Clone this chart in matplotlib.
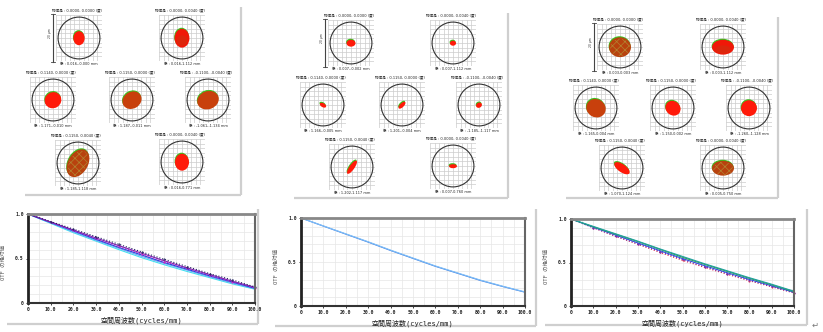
import matplotlib
matplotlib.use("Agg")
import matplotlib.pyplot as plt
from matplotlib.patches import Ellipse, Circle, Rectangle
import numpy as np

W, H = 823, 332
plt.rcParams["hatch.linewidth"] = 0.5

# ---------------- data ----------------
freq = [0, 10, 20, 30, 40, 50, 60, 70, 80, 90, 100]
xtick_labels = ["0", "10.0", "20.0", "30.0", "40.0", "50.0", "60.0", "70.0", "80.0", "90.0", "100.0"]
ytick_vals = [0, 0.5, 1.0]
ytick_labels = ["0", "0.5", "1.0"]

mtf1_navy = [1.0, 0.915, 0.83, 0.745, 0.66, 0.575, 0.49, 0.41, 0.33, 0.26, 0.18]
mtf1_purple = [1.0, 0.91, 0.82, 0.73, 0.645, 0.56, 0.475, 0.395, 0.32, 0.245, 0.175]
mtf1_magenta = [1.0, 0.905, 0.815, 0.725, 0.635, 0.55, 0.465, 0.39, 0.31, 0.24, 0.17]
mtf1_blue = [1.0, 0.905, 0.81, 0.715, 0.625, 0.54, 0.455, 0.38, 0.305, 0.235, 0.165]
mtf1_lightblue = [1.0, 0.9, 0.8, 0.705, 0.615, 0.525, 0.445, 0.37, 0.295, 0.225, 0.16]
mtf1_cyan = [1.0, 0.895, 0.79, 0.695, 0.6, 0.51, 0.43, 0.355, 0.285, 0.215, 0.155]

mtf2_a = [1.0, 0.91, 0.82, 0.73, 0.635, 0.545, 0.455, 0.375, 0.295, 0.225, 0.16]
mtf2_b = [1.0, 0.908, 0.817, 0.726, 0.631, 0.541, 0.451, 0.371, 0.291, 0.222, 0.157]

mtf3_teal = [1.0, 0.915, 0.83, 0.745, 0.655, 0.57, 0.485, 0.405, 0.325, 0.25, 0.17]
mtf3_green = [1.0, 0.91, 0.825, 0.74, 0.65, 0.56, 0.478, 0.398, 0.318, 0.243, 0.165]
mtf3_blue = [1.0, 0.905, 0.815, 0.725, 0.635, 0.545, 0.463, 0.383, 0.305, 0.232, 0.158]
mtf3_purple = [1.0, 0.9, 0.805, 0.715, 0.625, 0.535, 0.452, 0.373, 0.297, 0.225, 0.153]
mtf3_red = [1.0, 0.9, 0.8, 0.71, 0.615, 0.525, 0.443, 0.365, 0.29, 0.22, 0.15]

# spot diagrams: full width/height in units of the Airy circle radius, angle, style
obj_labels = ["物体高 : 0.0000, 0.0000 (度)", "物体高 : 0.0000, 0.0040 (度)",
              "物体高 : 0.1140, 0.0000 (度)", "物体高 : 0.1150, 0.0000 (度)",
              "物体高 : -0.1100, -0.0040 (度)", "物体高 : 0.1150, 0.0040 (度)",
              "物体高 : 0.0000, 0.0040 (度)"]
img1_labels = ["像 : 0.016,-0.000 mm", "像 : 0.016,1.112 mm", "像 : 1.171,-0.010 mm",
               "像 : 1.187,-0.011 mm", "像 : -1.061,-1.134 mm", "像 : 1.185,1.118 mm",
               "像 : 0.016,0.771 mm"]
img2_labels = ["像 : 0.007,-0.002 mm", "像 : 0.007,1.112 mm", "像 : 1.166,-0.005 mm",
               "像 : 1.201,-0.004 mm", "像 : -1.185,-1.117 mm", "像 : 1.202,1.117 mm",
               "像 : 0.007,0.760 mm"]
img3_labels = ["像 : 0.003,0.003 mm", "像 : 0.003,1.112 mm", "像 : 1.165,0.004 mm",
               "像 : 1.150,0.002 mm", "像 : -1.260,-1.128 mm", "像 : 1.070,1.124 mm",
               "像 : 0.005,0.750 mm"]

spot1_w = [0.54, 0.71, 0.81, 0.95, 1.05, 1.43, 0.67]
spot1_h = [0.67, 0.90, 0.76, 0.80, 0.86, 0.95, 0.81]
spot1_ang = [0, 0, 30, 30, 20, 60, 0]
spot1_style = ["red", "red2", "red", "brown", "brown", "speckle", "red"]

spot2_w = [0.43, 0.29, 0.33, 0.43, 0.29, 0.76, 0.38]
spot2_h = [0.33, 0.24, 0.19, 0.19, 0.24, 0.24, 0.19]
spot2_ang = [0, 0, -30, 45, 30, 55, 0]
spot2_style = ["red", "red", "red", "red", "red", "red", "red"]

spot3_w = [1.05, 1.05, 0.95, 0.76, 0.76, 0.86, 1.05]
spot3_h = [0.95, 0.71, 0.86, 0.67, 0.76, 0.38, 0.71]
spot3_ang = [0, 0, -30, -40, 0, -35, 0]
spot3_style = ["speckle", "red2", "brown", "red", "red", "red", "speckle"]

# ---------------- layout helpers ----------------
fig = plt.figure(figsize=(W / 100, H / 100), dpi=100)
fig.patch.set_facecolor("white")

bg = fig.add_axes([0, 0, 1, 1], zorder=-5)
bg.set_xlim(0, W)
bg.set_ylim(H, 0)
bg.axis("off")


def px_axes(left, top, width, height, **kw):
    return fig.add_axes([left / W, 1 - (top + height) / H, width / W, height / H], **kw)


def box(x0, y0, x1, y1):
    bg.add_patch(Rectangle((x0, y0), x1 - x0, y1 - y0, facecolor="white", edgecolor="none"))
    bg.plot([x1 + 1, x1 + 1], [y0 + 3, y1 + 1], color="#cfcfcf", lw=1.6, solid_capstyle="butt")
    bg.plot([x0 + 3, x1 + 1], [y1 + 1, y1 + 1], color="#cfcfcf", lw=1.6, solid_capstyle="butt")


FACE = {"red": "#ff1a0a", "red2": "#f01808", "brown": "#c8400c", "speckle": "#b8420e"}
CJK = ["DejaVu Sans", "Noto Sans CJK JP"]


def spot(cx, cy, w, h, ang, style, title, label, scalebar=False):
    s = 46
    ax = px_axes(cx - s / 2, cy - s / 2, s, s)
    ax.set_xlim(-1.1, 1.1)
    ax.set_ylim(-1.1, 1.1)
    ax.set_xticks(np.linspace(-1.1, 1.1, 11))
    ax.set_yticks(np.linspace(-1.1, 1.1, 11))
    ax.tick_params(length=0, labelbottom=False, labelleft=False)
    ax.grid(True, color="#cccccc", lw=0.5)
    for sp in ax.spines.values():
        sp.set_visible(False)
    ax.add_patch(Circle((0, 0), 1.0, fill=False, edgecolor="#333333", lw=0.8, zorder=3))
    ax.add_patch(Ellipse((-0.02, 0.04), w, h, angle=ang, facecolor="#3cc020", edgecolor="none", zorder=2))
    ax.add_patch(Ellipse((0, -0.01), w, h, angle=ang, facecolor=FACE[style], edgecolor="none", zorder=2.1))
    if style == "speckle":
        ax.add_patch(Ellipse((0, -0.02), w * 0.9, h * 0.88, angle=ang, facecolor="none",
                             edgecolor="#b0a040", lw=0, hatch="xxxx", alpha=0.7, zorder=2.2))
    if style == "red2":
        ax.add_patch(Ellipse((0, -0.12), w * 0.7, h * 0.55, angle=ang, facecolor="#d03010",
                             edgecolor="none", alpha=0.6, zorder=2.2))
    ax.text(0.45, 1.06, title, transform=ax.transAxes, ha="center", va="bottom",
            fontsize=2.6, family=CJK, color="#222222")
    ax.text(0.5, -0.02, label, transform=ax.transAxes, ha="center", va="top",
            fontsize=2.5, family=CJK, color="#222222")
    if scalebar:
        ax.plot([-0.06, -0.06], [-0.02, 1.02], transform=ax.transAxes, color="#444444",
                lw=0.8, clip_on=False)
        ax.plot([-0.1, -0.02], [1.02, 1.02], transform=ax.transAxes, color="#444444", lw=0.6, clip_on=False)
        ax.plot([-0.1, -0.02], [-0.02, -0.02], transform=ax.transAxes, color="#444444", lw=0.6, clip_on=False)
        ax.text(-0.12, 0.6, "20 μm", transform=ax.transAxes, rotation=90, ha="center",
                va="center", fontsize=2.2, color="#333333")


# spot diagram panels
box(22, 4, 240, 194)
box(291, 10, 507, 197)
box(563, 14, 777, 197)

centers1 = [(79, 38), (182, 38), (53, 100), (132, 100), (208, 100), (78, 163), (182, 162)]
centers2 = [(351, 43), (453, 43), (323, 105), (402, 105), (479, 105), (352, 167), (453, 166)]
centers3 = [(620, 47), (723, 47), (596, 108), (673, 108), (749, 108), (622, 168), (723, 168)]

for data in [(centers1, spot1_w, spot1_h, spot1_ang, spot1_style, img1_labels),
             (centers2, spot2_w, spot2_h, spot2_ang, spot2_style, img2_labels),
             (centers3, spot3_w, spot3_h, spot3_ang, spot3_style, img3_labels)]:
    cs, ws, hs, angs, styles, labels = data
    for i, (cx, cy) in enumerate(cs):
        spot(cx, cy, ws[i], hs[i], angs[i], styles[i], obj_labels[i], labels[i], scalebar=(i == 0))

# MTF panels
box(4, 206, 257, 323)
box(272, 206, 535, 325)
box(542, 206, 806, 324)

MONO = ["DejaVu Sans Mono", "Noto Sans CJK JP"]


def mtf_axes(left, top, right, bottom, series):
    ax = px_axes(left, top, right - left, bottom - top)
    for vals, color, ls, mk in series:
        ax.plot(freq, vals, color=color, lw=0.8, ls=ls, marker=mk, markersize=1.0,
                clip_on=False)
    ax.set_xlim(0, 100)
    ax.set_ylim(0, 1.0)
    ax.set_xticks(freq)
    ax.set_xticklabels(xtick_labels, fontsize=3.4, family="DejaVu Sans Mono", fontweight="bold")
    ax.set_yticks(ytick_vals)
    ax.set_yticklabels(ytick_labels, fontsize=3.4, family="DejaVu Sans Mono", fontweight="bold")
    ax.set_xticks(np.arange(5, 100, 5), minor=True)
    ax.set_yticks(np.arange(0.1, 1.0, 0.1), minor=True)
    ax.grid(True, which="both", color="#e6e6e6", lw=0.5)
    ax.set_axisbelow(True)
    ax.tick_params(length=1.5, width=0.6, pad=1.5, colors="#222222")
    ax.tick_params(which="minor", length=0)
    ax.spines["left"].set_linewidth(2.0)
    ax.spines["left"].set_color("#222222")
    ax.spines["bottom"].set_linewidth(1.5)
    ax.spines["bottom"].set_color("#333333")
    ax.spines["top"].set_linewidth(2.0)
    ax.spines["top"].set_color("#888888")
    ax.spines["right"].set_linewidth(1.5)
    ax.spines["right"].set_color("#666666")
    ax.set_xlabel("空間周波数(cycles/mm)", fontsize=5, family=MONO, color="#222222", labelpad=3)
    ax.set_ylabel("OTF の絶対値", fontsize=4, family=MONO, color="#555555")
    ax.yaxis.set_label_coords(-22 / (right - left), 0.45)
    return ax


mtf_axes(28, 214, 255, 303, [
    (mtf1_cyan, "#40e0f0", "-", None),
    (mtf1_lightblue, "#70a8f0", "-", None),
    (mtf1_blue, "#2040e0", "-", None),
    (mtf1_magenta, "#e020c0", ":", "."),
    (mtf1_purple, "#8020b0", "-", None),
    (mtf1_navy, "#202060", ":", "."),
])
mtf_axes(301, 218, 525, 306, [
    (mtf2_b, "#3a78e0", "-", None),
    (mtf2_a, "#80c0f8", "-", None),
])
mtf_axes(571, 219, 794, 306, [
    (mtf3_red, "#e02040", ":", "."),
    (mtf3_purple, "#6030c0", ":", "."),
    (mtf3_blue, "#3050e0", "-", None),
    (mtf3_green, "#30a050", "-", None),
    (mtf3_teal, "#20a0a0", "-", None),
])

bg.text(815, 325, "↵", fontsize=6, color="#777777", ha="center", va="center")

fig.savefig("out.png", dpi=100)
